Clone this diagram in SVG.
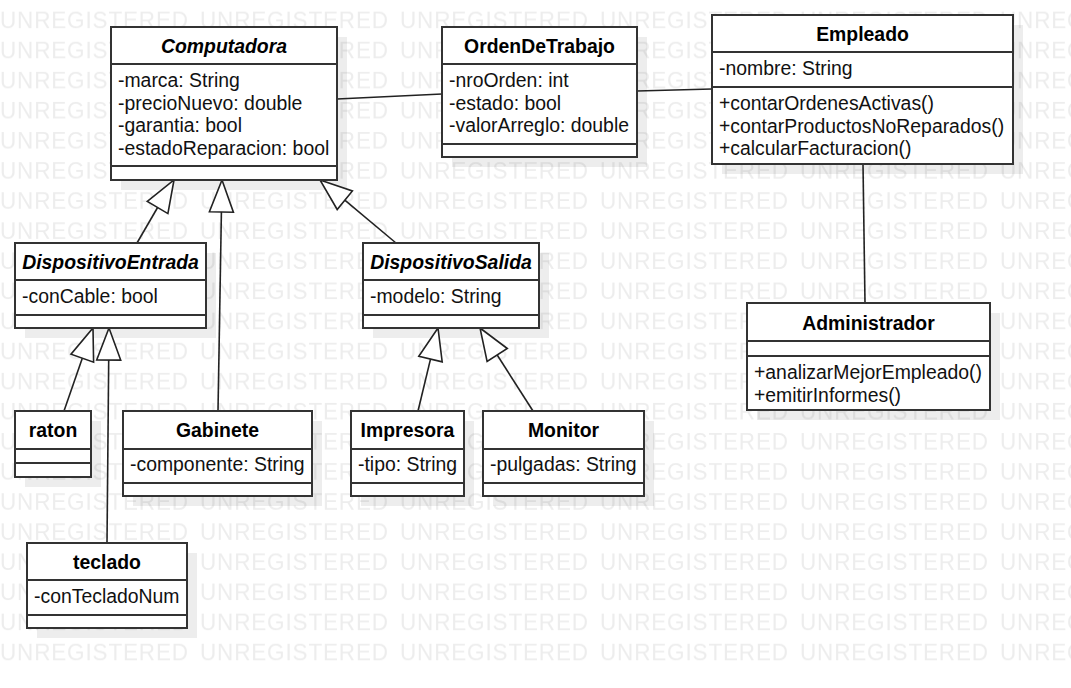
<svg xmlns="http://www.w3.org/2000/svg" width="1071" height="688" viewBox="0 0 1071 688">
<style>
.wm{font-family:"Liberation Sans",Arial,sans-serif;font-size:22.5px;letter-spacing:0.84px;fill:#ededed}
.sh{fill:#000;fill-opacity:0.07}
.box{fill:#fff;stroke:#333;stroke-width:2}
.div{stroke:#333;stroke-width:2}
.t{font-family:"Liberation Sans",Arial,sans-serif;font-size:19.4px;font-weight:bold;fill:#000;text-anchor:middle}
.ti{font-style:italic}
.a{font-family:"Liberation Sans",Arial,sans-serif;font-size:19.4px;fill:#111}
.ln{stroke:#222;stroke-width:1.6;fill:none}
.tri{fill:#fff;stroke:#222;stroke-width:1.6;stroke-linejoin:miter}
</style>
<defs>
<pattern id="wmp" patternUnits="userSpaceOnUse" x="0" y="0" width="200" height="30.1">
<text class="wm" x="0" y="28">UNREGISTERED</text>
</pattern>
</defs>
<rect width="1071" height="688" fill="#fff"/>
<rect id="watermark" x="0" y="0" width="1071" height="665" fill="url(#wmp)"/>
<g id="shadows">
<rect class="sh" x="121" y="37" width="226" height="153"/>
<rect class="sh" x="452" y="37" width="195" height="130"/>
<rect class="sh" x="722" y="25" width="301" height="149"/>
<rect class="sh" x="25" y="253" width="191" height="85"/>
<rect class="sh" x="373" y="253" width="176" height="85"/>
<rect class="sh" x="757" y="313" width="243" height="107"/>
<rect class="sh" x="25" y="421" width="76" height="66"/>
<rect class="sh" x="133" y="421" width="189" height="85"/>
<rect class="sh" x="361" y="421" width="113" height="85"/>
<rect class="sh" x="493" y="421" width="161" height="85"/>
<rect class="sh" x="37" y="553" width="160" height="85"/>
</g>
<g id="connectors">
<line class="ln" x1="337" y1="99" x2="442" y2="94"/>
<line class="ln" x1="637" y1="91" x2="712" y2="89"/>
<line class="ln" x1="863" y1="164" x2="865" y2="303"/>
<line class="ln" x1="137" y1="243" x2="157.6" y2="207.5"/>
<polygon class="tri" points="174,180 167.9,213.6 147.3,201.4"/>
<line class="ln" x1="218" y1="411" x2="221.4" y2="212"/>
<polygon class="tri" points="222,180 233.4,212.2 209.4,211.8"/>
<line class="ln" x1="396" y1="243" x2="344.8" y2="200.2"/>
<polygon class="tri" points="320,180 352.4,190.9 337.2,209.5"/>
<line class="ln" x1="64" y1="411" x2="82.3" y2="358.2"/>
<polygon class="tri" points="93,328 93.6,362.2 71,354.2"/>
<line class="ln" x1="107" y1="543" x2="108.7" y2="360"/>
<polygon class="tri" points="109,328 120.7,360.1 96.7,359.9"/>
<line class="ln" x1="418" y1="411" x2="430.5" y2="359.1"/>
<polygon class="tri" points="438,328 442.2,361.9 418.8,356.3"/>
<line class="ln" x1="533" y1="411" x2="497.2" y2="355"/>
<polygon class="tri" points="480,328 507.3,348.5 487.1,361.5"/>
</g>
<g id="Computadora">
<rect class="box" x="111" y="27" width="226" height="153"/>
<line class="div" x1="111" y1="64" x2="337" y2="64"/>
<line class="div" x1="111" y1="166" x2="337" y2="166"/>
<text class="t ti" x="224" y="53">Computadora</text>
<text class="a" x="118" y="87">-marca: String</text>
<text class="a" x="118" y="109.7">-precioNuevo: double</text>
<text class="a" x="118" y="132.4">-garantia: bool</text>
<text class="a" x="118" y="155.1">-estadoReparacion: bool</text>
</g>
<g id="OrdenDeTrabajo">
<rect class="box" x="442" y="27" width="195" height="130"/>
<line class="div" x1="442" y1="64" x2="637" y2="64"/>
<line class="div" x1="442" y1="144" x2="637" y2="144"/>
<text class="t" x="539.5" y="53">OrdenDeTrabajo</text>
<text class="a" x="449" y="87">-nroOrden: int</text>
<text class="a" x="449" y="109.7">-estado: bool</text>
<text class="a" x="449" y="132.4">-valorArreglo: double</text>
</g>
<g id="Empleado">
<rect class="box" x="712" y="15" width="301" height="149"/>
<line class="div" x1="712" y1="52" x2="1013" y2="52"/>
<line class="div" x1="712" y1="87" x2="1013" y2="87"/>
<text class="t" x="862.5" y="41">Empleado</text>
<text class="a" x="719" y="75">-nombre: String</text>
<text class="a" x="719" y="110">+contarOrdenesActivas()</text>
<text class="a" x="719" y="132.7">+contarProductosNoReparados()</text>
<text class="a" x="719" y="155.4">+calcularFacturacion()</text>
</g>
<g id="DispositivoEntrada">
<rect class="box" x="15" y="243" width="191" height="85"/>
<line class="div" x1="15" y1="280" x2="206" y2="280"/>
<line class="div" x1="15" y1="315" x2="206" y2="315"/>
<text class="t ti" x="110.5" y="269">DispositivoEntrada</text>
<text class="a" x="22" y="302.7">-conCable: bool</text>
</g>
<g id="DispositivoSalida">
<rect class="box" x="363" y="243" width="176" height="85"/>
<line class="div" x1="363" y1="280" x2="539" y2="280"/>
<line class="div" x1="363" y1="315" x2="539" y2="315"/>
<text class="t ti" x="451" y="269">DispositivoSalida</text>
<text class="a" x="370" y="302.7">-modelo: String</text>
</g>
<g id="Administrador">
<rect class="box" x="747" y="303" width="243" height="107"/>
<line class="div" x1="747" y1="341" x2="990" y2="341"/>
<line class="div" x1="747" y1="356" x2="990" y2="356"/>
<text class="t" x="868.5" y="329.5">Administrador</text>
<text class="a" x="754" y="379">+analizarMejorEmpleado()</text>
<text class="a" x="754" y="401.7">+emitirInformes()</text>
</g>
<g id="raton">
<rect class="box" x="15" y="411" width="76" height="66"/>
<line class="div" x1="15" y1="449" x2="91" y2="449"/>
<line class="div" x1="15" y1="463" x2="91" y2="463"/>
<text class="t" x="53" y="437">raton</text>
</g>
<g id="Gabinete">
<rect class="box" x="123" y="411" width="189" height="85"/>
<line class="div" x1="123" y1="449" x2="312" y2="449"/>
<line class="div" x1="123" y1="483" x2="312" y2="483"/>
<text class="t" x="217.5" y="437">Gabinete</text>
<text class="a" x="130" y="471">-componente: String</text>
</g>
<g id="Impresora">
<rect class="box" x="351" y="411" width="113" height="85"/>
<line class="div" x1="351" y1="449" x2="464" y2="449"/>
<line class="div" x1="351" y1="483" x2="464" y2="483"/>
<text class="t" x="407.5" y="437">Impresora</text>
<text class="a" x="358" y="471">-tipo: String</text>
</g>
<g id="Monitor">
<rect class="box" x="483" y="411" width="161" height="85"/>
<line class="div" x1="483" y1="449" x2="644" y2="449"/>
<line class="div" x1="483" y1="483" x2="644" y2="483"/>
<text class="t" x="563.5" y="437">Monitor</text>
<text class="a" x="490" y="471">-pulgadas: String</text>
</g>
<g id="teclado">
<rect class="box" x="27" y="543" width="160" height="85"/>
<line class="div" x1="27" y1="580" x2="187" y2="580"/>
<line class="div" x1="27" y1="615" x2="187" y2="615"/>
<text class="t" x="107" y="569">teclado</text>
<text class="a" x="34" y="602.7">-conTecladoNum</text>
</g>
</svg>
